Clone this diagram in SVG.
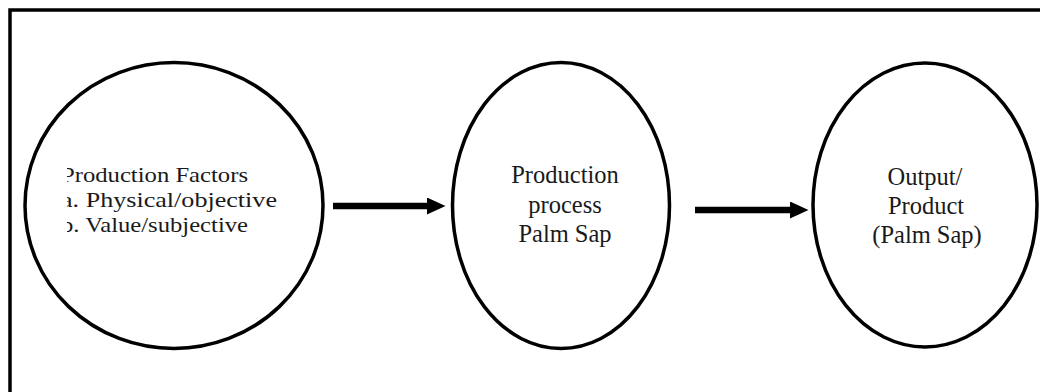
<svg xmlns="http://www.w3.org/2000/svg" width="1040" height="392" viewBox="0 0 1040 392">
  <style>
    .node { fill: #ffffff; stroke: #000000; stroke-width: 3.5; }
    .label { font-family: 'Liberation Serif', 'DejaVu Serif', serif; fill: #1a1a1a; }
    .small { font-size: 21.5px; }
    .big { font-size: 24.5px; }
    .conn { stroke: #000000; stroke-width: 6.5; fill: none; }
  </style>
  <defs>
    <marker id="head" markerUnits="userSpaceOnUse" markerWidth="20" markerHeight="20" refX="0" refY="8.5" orient="auto">
      <path d="M0,0 L18.5,8.5 L0,17 z" fill="#000000"/>
    </marker>
    <clipPath id="clip1">
      <rect x="67" y="150" width="260" height="110"/>
    </clipPath>
  </defs>
  <rect x="10" y="10" width="1060" height="420" fill="#ffffff" stroke="#000000" stroke-width="3.5"/>
  <g id="node-factors">
    <ellipse class="node" cx="174" cy="205.5" rx="149" ry="143"/>
    <g clip-path="url(#clip1)">
      <text class="label small" x="61" y="182" textLength="187" lengthAdjust="spacingAndGlyphs">Production Factors</text>
      <text class="label small" x="61" y="207" textLength="216" lengthAdjust="spacingAndGlyphs">a. Physical/objective</text>
      <text class="label small" x="61" y="232" textLength="187" lengthAdjust="spacingAndGlyphs">b. Value/subjective</text>
    </g>
  </g>
  <g id="node-process">
    <ellipse class="node" cx="561" cy="205.5" rx="108.5" ry="143"/>
    <text class="label big" x="565" y="183" text-anchor="middle">Production</text>
    <text class="label big" x="565" y="213" text-anchor="middle">process</text>
    <text class="label big" x="565" y="242" text-anchor="middle">Palm Sap</text>
  </g>
  <g id="node-output">
    <ellipse class="node" cx="925" cy="205" rx="112" ry="142"/>
    <text class="label big" x="925" y="185" text-anchor="middle">Output/</text>
    <text class="label big" x="926" y="214" text-anchor="middle">Product</text>
    <text class="label big" x="927" y="243" text-anchor="middle">(Palm Sap)</text>
  </g>
  <g id="connectors">
    <path class="conn" d="M333,206 L427,206" marker-end="url(#head)"/>
    <path class="conn" d="M695,210 L790,210" marker-end="url(#head)"/>
  </g>
</svg>
